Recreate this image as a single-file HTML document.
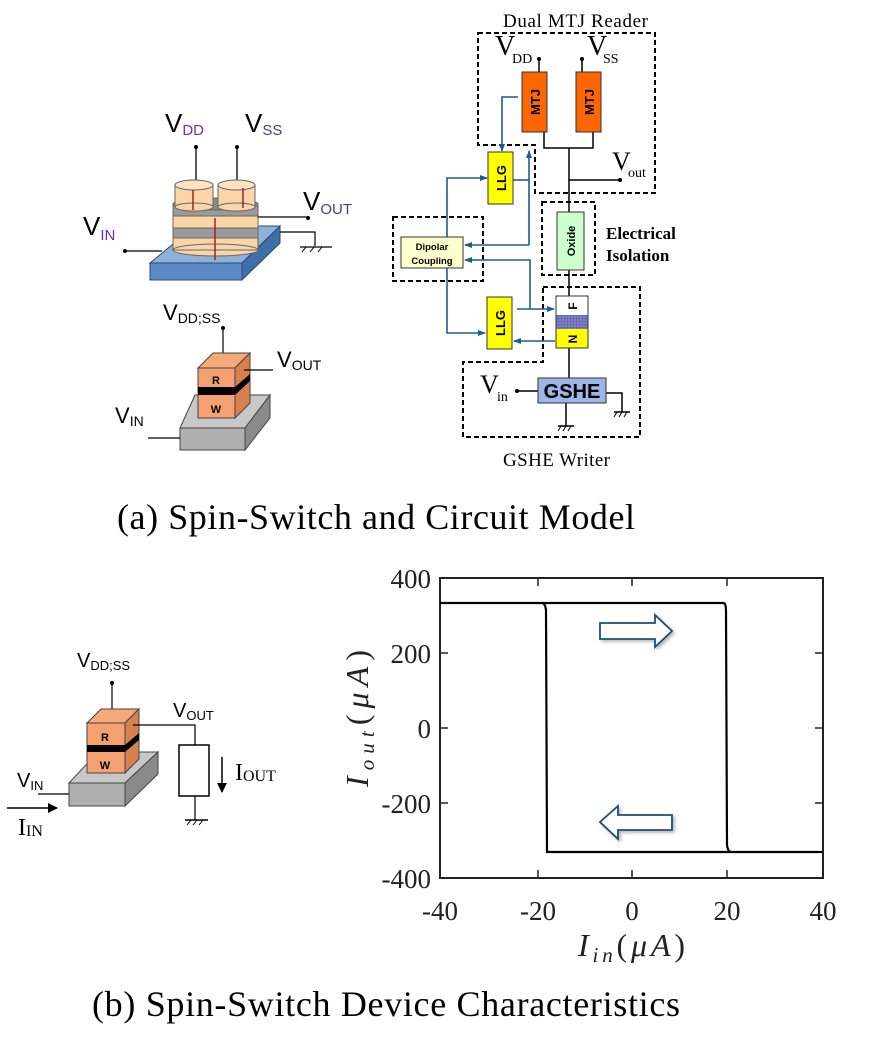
<!DOCTYPE html>
<html><head><meta charset="utf-8"><style>
html,body{margin:0;padding:0;background:#fff;}
svg{display:block;}
.s{font-family:"Liberation Sans",sans-serif;}
.r{font-family:"Liberation Serif",serif;}
</style></head><body>
<svg width="874" height="1051" viewBox="0 0 874 1051" xmlns="http://www.w3.org/2000/svg">
<defs>
<marker id="ba" markerWidth="8" markerHeight="8" refX="7" refY="4" orient="auto" markerUnits="userSpaceOnUse"><path d="M0,1 L8,4 L0,7 z" fill="#1f5b99"/></marker>
<marker id="ka" markerWidth="10" markerHeight="10" refX="9" refY="5" orient="auto" markerUnits="userSpaceOnUse"><path d="M0,0 L10,5 L0,10 z" fill="#000"/></marker>
<pattern id="hat" width="3" height="3" patternUnits="userSpaceOnUse"><rect width="3" height="3" fill="#8080c8"/><path d="M0,0H3M0,0V3" stroke="#5050a0" stroke-width="0.8"/></pattern>
<filter id="sh"><feDropShadow dx="2" dy="2" stdDeviation="1.5" flood-color="#888" flood-opacity="0.6"/></filter>
</defs>

<!-- ===== Top-left 3D device ===== -->
<g class="s">
<text x="165" y="132" font-size="26">V<tspan font-size="15" fill="#7030a0" dy="3">DD</tspan></text>
<text x="245" y="132" font-size="26">V<tspan font-size="15" fill="#404080" dy="3">SS</tspan></text>
<text x="83" y="235" font-size="26">V<tspan font-size="15" fill="#7030a0" dy="5">IN</tspan></text>
<text x="303" y="210" font-size="26">V<tspan font-size="15" fill="#404080" dy="4">OUT</tspan></text>
</g>
<line x1="196" y1="147" x2="196" y2="190" stroke="#000" stroke-width="1.3"/><circle cx="196" cy="147" r="2" fill="#000"/>
<line x1="237" y1="147" x2="237" y2="190" stroke="#000" stroke-width="1.3"/><circle cx="237" cy="147" r="2" fill="#000"/>
<polygon points="150,263 195,226 280,226 242,263" fill="#8fb0d8" stroke="#2a4a78" stroke-width="1"/>
<polygon points="150,263 242,263 242,280 150,280" fill="#5b8ac4" stroke="#2a4a78" stroke-width="1"/>
<polygon points="242,263 280,226 280,243 242,280" fill="#3f6fa8" stroke="#2a4a78" stroke-width="1"/>
<line x1="125" y1="251" x2="162" y2="251" stroke="#000" stroke-width="1.2"/><circle cx="125" cy="251" r="2" fill="#000"/>
<rect x="173" y="204" width="85" height="46" fill="#fbd5a8"/>
<rect x="173" y="204" width="85" height="12" fill="#9a9a9a"/>
<rect x="173" y="228" width="85" height="10" fill="#9a9a9a"/>
<line x1="173" y1="216" x2="258" y2="216" stroke="#666"/>
<line x1="173" y1="228" x2="258" y2="228" stroke="#666"/>
<line x1="173" y1="238" x2="258" y2="238" stroke="#666"/>
<ellipse cx="215.5" cy="250" rx="42.5" ry="6" fill="#fbd5a8" stroke="#666"/>
<rect x="173" y="204" width="85" height="46" fill="none" stroke="#666"/>
<ellipse cx="215.5" cy="204" rx="42.5" ry="6" fill="#8a8a8a" stroke="#666"/>
<line x1="215" y1="218" x2="215" y2="260" stroke="#a02020" stroke-width="1.5"/>
<rect x="175" y="185" width="38" height="22" fill="#fbd5a8" stroke="#666"/>
<ellipse cx="194" cy="207" rx="19" ry="4" fill="#fbd5a8" stroke="#666"/>
<ellipse cx="194" cy="185" rx="19" ry="5" fill="#fde3c4" stroke="#666"/>
<rect x="218" y="185" width="37" height="22" fill="#fbd5a8" stroke="#666"/>
<ellipse cx="236.5" cy="207" rx="18.5" ry="4" fill="#fbd5a8" stroke="#666"/>
<ellipse cx="236.5" cy="185" rx="18.5" ry="5" fill="#fde3c4" stroke="#666"/>
<line x1="193" y1="210" x2="193" y2="190" stroke="#a02020" stroke-width="1.5"/>
<line x1="243" y1="188" x2="243" y2="208" stroke="#a02020" stroke-width="1.5"/>
<line x1="258" y1="217" x2="308" y2="217" stroke="#000" stroke-width="1.2"/><circle cx="308" cy="218" r="2" fill="#000"/>
<polyline points="280,232 315,232 315,246" fill="none" stroke="#000" stroke-width="1.2"/>
<line x1="300" y1="247" x2="332" y2="247" stroke="#000" stroke-width="1.2"/>
<path d="M306,247l-4,5M314,247l-4,5M322,247l-4,5" stroke="#000"/>

<!-- ===== second device ===== -->
<text class="s" x="163" y="320" font-size="22">V<tspan font-size="14" dy="3">DD;SS</tspan></text>
<line x1="223" y1="328" x2="223" y2="362" stroke="#000" stroke-width="1.2"/><circle cx="223" cy="328" r="2" fill="#000"/>
<polygon points="180,428 195,395 270,395 245,428" fill="#c8c8c8" stroke="#444"/>
<rect x="180" y="428" width="65" height="22" fill="#b0b0b0" stroke="#444"/>
<polygon points="245,428 270,395 270,418 245,450" fill="#8a8a8a" stroke="#444"/>
<polygon points="198,368 213,353 250,353 235,368" fill="#f5a878" stroke="#444"/>
<rect x="198" y="368" width="37" height="50" fill="#f5a070" stroke="#444"/>
<polygon points="235,368 250,353 250,403 235,418" fill="#d8804f" stroke="#444"/>
<polygon points="198,387 235,387 250,374 250,381 235,395 198,395" fill="#000"/>
<text class="s" x="216" y="384" font-size="11" font-weight="bold" text-anchor="middle">R</text>
<text class="s" x="216" y="413" font-size="11" font-weight="bold" text-anchor="middle">W</text>
<line x1="244" y1="370" x2="273" y2="370" stroke="#000" stroke-width="1.2"/>
<text class="s" x="277" y="367" font-size="22">V<tspan font-size="14" dy="3">OUT</tspan></text>
<line x1="148" y1="438" x2="180" y2="438" stroke="#000" stroke-width="1.2"/>
<text class="s" x="115" y="423" font-size="22">V<tspan font-size="14" dy="3">IN</tspan></text>

<!-- ===== circuit model ===== -->
<g class="r">
<text x="503" y="27" font-size="19" textLength="145">Dual MTJ Reader</text>
<text x="495" y="55" font-size="28">V</text><text x="512" y="63" font-size="14">DD</text>
<text x="587" y="55" font-size="28">V</text><text x="603" y="63" font-size="14">SS</text>
<text x="612" y="170" font-size="26">V</text><text x="628" y="177" font-size="14">out</text>
<text x="606" y="239" font-size="17" font-weight="bold">Electrical</text>
<text x="606" y="261" font-size="17" font-weight="bold">Isolation</text>
<text x="480" y="393" font-size="26">V</text><text x="497" y="401" font-size="14">in</text>
<text x="503" y="466" font-size="19" textLength="107">GSHE Writer</text>
</g>
<g fill="none" stroke="#000" stroke-width="2" stroke-dasharray="5,3">
<polygon points="478,33 655,33 655,193 535,193 535,145 478,145"/>
<rect x="393" y="217" width="90" height="64"/>
<rect x="542" y="202" width="53" height="73"/>
<polygon points="543,287 640,287 640,437 463,437 463,362 543,362"/>
</g>
<g stroke="#000" stroke-width="1.5" fill="none">
<line x1="539" y1="59" x2="539" y2="72"/><line x1="582" y1="59" x2="582" y2="72"/>
<polyline points="544,132 544,148 593,148 593,132"/>
<line x1="569" y1="148" x2="569" y2="212"/>
<line x1="569" y1="180" x2="620" y2="180"/>
<line x1="569" y1="270" x2="569" y2="296"/>
<line x1="569" y1="348" x2="569" y2="378"/>
<line x1="517" y1="391" x2="538" y2="391"/>
<polyline points="606,393 622,393 622,412"/>
<line x1="566" y1="403" x2="566" y2="426"/>
<line x1="614" y1="412" x2="630" y2="412"/>
<line x1="558" y1="426" x2="574" y2="426"/>
</g>
<path d="M617,412l-3,5M622,412l-3,5M627,412l-3,5M561,426l-3,5M566,426l-3,5M571,426l-3,5" stroke="#000"/>
<circle cx="539" cy="59" r="2" fill="#000"/><circle cx="582" cy="59" r="2" fill="#000"/>
<circle cx="620" cy="180" r="2" fill="#000"/><circle cx="517" cy="391" r="2" fill="#000"/>
<rect x="522" y="72" width="25" height="60" fill="#ff6600" stroke="#333"/>
<rect x="576" y="72" width="25" height="60" fill="#ff6600" stroke="#333"/>
<text class="s" transform="translate(540,102) rotate(-90)" font-size="13" font-weight="bold" text-anchor="middle">MTJ</text>
<text class="s" transform="translate(594,102) rotate(-90)" font-size="13" font-weight="bold" text-anchor="middle">MTJ</text>
<rect x="488" y="152" width="25" height="52" fill="#ffff00" stroke="#333"/>
<text class="s" transform="translate(506,178) rotate(-90)" font-size="13" font-weight="bold" text-anchor="middle">LLG</text>
<rect x="487" y="297" width="25" height="52" fill="#ffff00" stroke="#333"/>
<text class="s" transform="translate(505,323) rotate(-90)" font-size="13" font-weight="bold" text-anchor="middle">LLG</text>
<rect x="401" y="237" width="62" height="31" fill="#ffffcc" stroke="#333"/>
<text class="s" x="432" y="250" font-size="9.5" font-weight="bold" text-anchor="middle">Dipolar</text>
<text class="s" x="432" y="264" font-size="9.5" font-weight="bold" text-anchor="middle">Coupling</text>
<rect x="557" y="212" width="27" height="58" fill="#ccffcc" stroke="#333"/>
<text class="s" transform="translate(575,241) rotate(-90)" font-size="11" font-weight="bold" text-anchor="middle">Oxide</text>
<rect x="556" y="296" width="32" height="19" fill="#fff"/>
<rect x="556" y="315" width="32" height="14" fill="url(#hat)"/>
<rect x="556" y="329" width="32" height="19" fill="#ffff00"/>
<rect x="556" y="296" width="32" height="52" fill="none" stroke="#333"/>
<text class="s" transform="translate(577,306) rotate(-90)" font-size="12" font-weight="bold" text-anchor="middle">F</text>
<text class="s" transform="translate(577,339) rotate(-90)" font-size="12" font-weight="bold" text-anchor="middle">N</text>
<rect x="538" y="378" width="68" height="25" fill="#9db5e8" stroke="#333"/>
<text class="s" x="572" y="398" font-size="20" font-weight="bold" text-anchor="middle">GSHE</text>
<g stroke="#1f5b99" stroke-width="1.6" fill="none">
<polyline points="518,97 502,97 502,151" marker-end="url(#ba)"/>
<polyline points="513,180 529,180"/>
<polyline points="529,245 529,151" marker-end="url(#ba)"/>
<polyline points="529,245 465,245" marker-end="url(#ba)"/>
<polyline points="517,309 554,309" marker-end="url(#ba)"/>
<polyline points="530,309 530,260 465,260" marker-end="url(#ba)"/>
<polyline points="447,237 447,178 487,178" marker-end="url(#ba)"/>
<polyline points="447,268 447,333 485,333" marker-end="url(#ba)"/>
<polyline points="555,341 514,341" marker-end="url(#ba)"/>
</g>

<text class="r" x="117" y="529" font-size="36" textLength="518">(a) Spin-Switch and Circuit Model</text>

<!-- ===== bottom-left device ===== -->
<text class="s" x="77" y="667" font-size="20">V<tspan font-size="13" dy="3">DD;SS</tspan></text>
<line x1="112" y1="683" x2="112" y2="709" stroke="#000" stroke-width="1.2"/><circle cx="112" cy="683" r="2" fill="#000"/>
<polygon points="69,783 98,752 158,752 125,783" fill="#c8c8c8" stroke="#444"/>
<rect x="69" y="783" width="56" height="23" fill="#b0b0b0" stroke="#444"/>
<polygon points="125,783 158,752 158,774 125,806" fill="#8a8a8a" stroke="#444"/>
<polygon points="87,723 101,709 139,709 125,723" fill="#f5a878" stroke="#444"/>
<rect x="87" y="723" width="38" height="50" fill="#f5a070" stroke="#444"/>
<polygon points="125,723 139,709 139,759 125,773" fill="#d8804f" stroke="#444"/>
<polygon points="87,745 125,745 139,733 139,740 125,752 87,752" fill="#000"/>
<text class="s" x="105" y="741" font-size="11" font-weight="bold" text-anchor="middle">R</text>
<text class="s" x="105" y="769" font-size="11" font-weight="bold" text-anchor="middle">W</text>
<polyline points="133,725 195,725 195,745" fill="none" stroke="#000" stroke-width="1.2"/>
<rect x="179" y="745" width="30" height="51" fill="#fff" stroke="#000" stroke-width="1.5"/>
<line x1="195" y1="796" x2="195" y2="820" stroke="#000" stroke-width="1.2"/>
<line x1="185" y1="820" x2="208" y2="820" stroke="#000" stroke-width="1.5"/>
<path d="M191,820l-4,5M197,820l-4,5M203,820l-4,5" stroke="#000"/>
<text class="s" x="173" y="717" font-size="20">V<tspan font-size="13" dy="3">OUT</tspan></text>
<line x1="222" y1="757" x2="222" y2="792" stroke="#000" stroke-width="1.5" marker-end="url(#ka)"/>
<text class="r" x="235" y="780" font-size="24">I<tspan font-size="16" dy="1">OUT</tspan></text>
<text class="s" x="17" y="787" font-size="20">V<tspan font-size="13" dy="3">IN</tspan></text>
<line x1="38" y1="794" x2="69" y2="794" stroke="#000" stroke-width="1.2"/>
<line x1="7" y1="808" x2="57" y2="808" stroke="#000" stroke-width="1.5" marker-end="url(#ka)"/>
<text class="r" x="18" y="835" font-size="24">I<tspan font-size="16" dy="1">IN</tspan></text>

<!-- ===== plot ===== -->
<rect x="440" y="578" width="383" height="300" fill="none" stroke="#222" stroke-width="2"/>
<g stroke="#222" stroke-width="1.5">
<line x1="538" y1="578" x2="538" y2="586"/><line x1="632" y1="578" x2="632" y2="586"/><line x1="727" y1="578" x2="727" y2="586"/>
<line x1="538" y1="878" x2="538" y2="870"/><line x1="632" y1="878" x2="632" y2="870"/><line x1="727" y1="878" x2="727" y2="870"/>
<line x1="440" y1="653" x2="448" y2="653"/><line x1="440" y1="728" x2="448" y2="728"/><line x1="440" y1="803" x2="448" y2="803"/>
<line x1="823" y1="653" x2="815" y2="653"/><line x1="823" y1="728" x2="815" y2="728"/><line x1="823" y1="803" x2="815" y2="803"/>
</g>
<path d="M440,603 L542,603 Q545,603 546,610 L547,852 L822,852 M542,603 L724,603 Q726,604 726,612 L727,845 Q728,852 731,852" fill="none" stroke="#000" stroke-width="2.2"/>
<g class="r" font-size="27" fill="#222">
<text x="431" y="588" text-anchor="end">400</text>
<text x="431" y="663" text-anchor="end">200</text>
<text x="431" y="738" text-anchor="end">0</text>
<text x="431" y="813" text-anchor="end">-200</text>
<text x="431" y="888" text-anchor="end">-400</text>
<text x="440" y="920" text-anchor="middle">-40</text>
<text x="538" y="920" text-anchor="middle">-20</text>
<text x="632" y="920" text-anchor="middle">0</text>
<text x="727" y="920" text-anchor="middle">20</text>
<text x="823" y="920" text-anchor="middle">40</text>
<text x="578" y="956" font-size="32" textLength="107"><tspan font-style="italic">I<tspan font-size="21" dy="6">in</tspan></tspan><tspan dy="-6">(</tspan><tspan font-style="italic">μA</tspan>)</text>
<text transform="translate(368,787) rotate(-90)" font-size="32" textLength="137"><tspan font-style="italic">I<tspan font-size="21" dy="6">out</tspan></tspan><tspan dy="-6">(</tspan><tspan font-style="italic">μA</tspan>)</text>
</g>
<polygon points="600,623 655,623 655,615 672,631 655,647 655,639 600,639" fill="#fff" stroke="#1f4e79" stroke-width="1.8" filter="url(#sh)"/>
<polygon points="672,815 618,815 618,806 600,822 618,839 618,830 672,830" fill="#fff" stroke="#1f4e79" stroke-width="1.8" filter="url(#sh)"/>

<text class="r" x="92" y="1016" font-size="36" textLength="588">(b) Spin-Switch Device Characteristics</text>
</svg>
</body></html>
